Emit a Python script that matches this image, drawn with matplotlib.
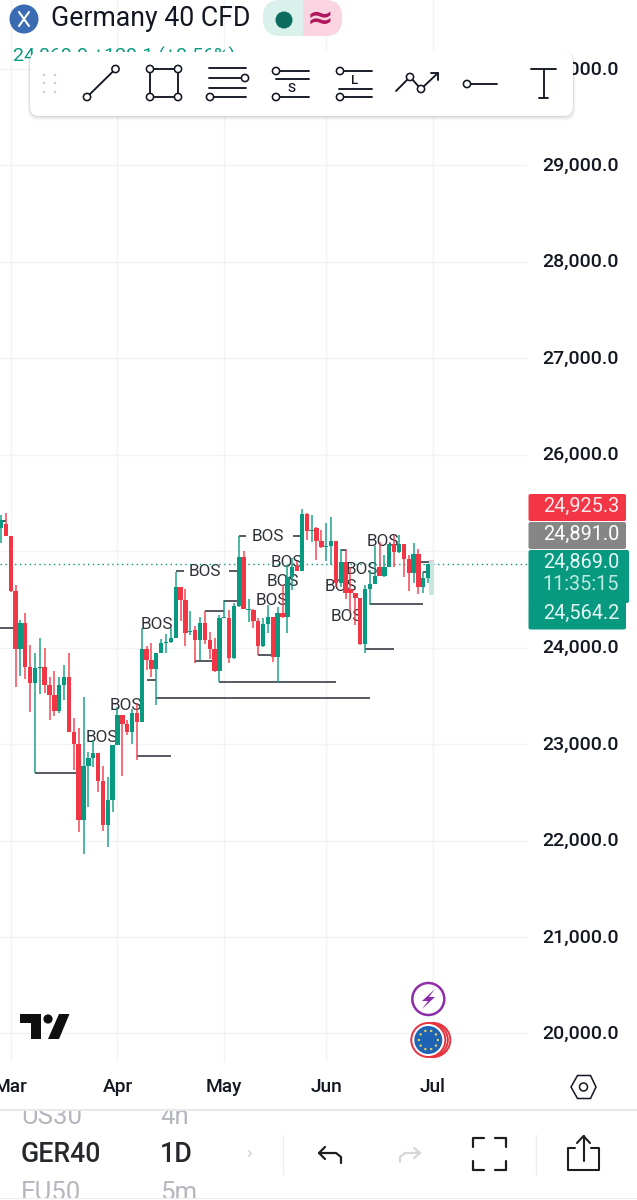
import numpy as np
import matplotlib
matplotlib.use("Agg")
import matplotlib.pyplot as plt
from matplotlib.patches import Circle, Rectangle, FancyBboxPatch, Polygon
from matplotlib.transforms import ScaledTranslation

plt.rcParams['font.family'] = ['Roboto', 'DejaVu Sans']

# ---------- data ----------
opens = [25237,25282,25158,24591,23986,24259,23796,23637,23793,23803,23613,23509,23343,23609,23699,23129,23001,22213,22773,22853,
         22911,22621,22161,22421,22991,23302,23209,23122,23319,23233,23986,23872,23779,23948,24045,24055,24097,24632,24494,24166,
         24183,24079,24252,24079,23986,23762,24304,24303,23889,24431,24943,24390,24390,24276,24020,24241,24321,23899,24362,24314,
         24729,24846,24798,25385,25212,25237,25105,25046,25054,25109,24667,24892,24608,24564,24519,24035,24608,24660,24840,24743,
         24840,25075,24996,25075,24919,24771,24971,24633,24719]
highs = [25375,25400,25158,24650,24287,24363,24028,23941,24104,23993,23699,23758,23699,23820,23948,23267,23171,23492,22922,23043,
         22911,22773,22663,22991,23388,23302,23250,23361,23423,24200,24021,24052,23948,24086,24138,24200,24788,24632,24605,24384,
         24225,24321,24380,24159,24097,24339,24494,24390,24459,25157,25005,24500,24397,24303,24303,24442,24321,24424,24649,24856,
         24926,24901,25434,25399,25375,25247,25219,25295,25358,25109,25023,25023,24840,24564,24519,24650,24805,25058,25099,24961,
         25075,25168,25168,25075,24961,25082,25023,24788,24864]
lows = [25082,25158,24581,23596,23706,23672,23336,22704,23520,23527,23250,23292,23319,23457,23129,22732,22085,21861,22345,22766,
        22507,22099,21937,22293,22991,22669,23095,23001,22835,23233,23768,23699,23406,23941,23948,24052,24097,24280,24021,24131,
        23838,23872,24038,23879,23751,23644,24304,23844,23878,24424,24397,24269,24200,23923,24003,24148,23854,23636,24303,24155,
        24597,24798,24798,25116,25098,24908,25029,24901,24856,24632,24632,24505,24367,24235,24028,23948,24443,24660,24743,24736,
        24840,24840,24978,24729,24591,24667,24553,24564,24667]
closes = [25324,25158,24591,23986,24259,23803,23637,23786,23803,23613,23509,23343,23609,23699,23129,23001,22213,22773,22853,22911,
          22621,22161,22421,22991,23302,23209,23122,23319,23233,23986,23872,23779,23948,24045,24062,24097,24632,24494,24156,24176,
          24079,24252,24079,23986,23762,24304,24314,23889,24431,24943,24397,24400,24276,24020,24241,24321,23899,24362,24314,24729,
          24839,24798,25385,25212,25222,25105,25046,25056,25109,24673,24892,24564,24564,24519,24035,24608,24660,24743,24743,24840,
          25075,24996,25075,24919,24771,24971,24633,24719,24864]

price_ticks = [20000,21000,22000,23000,24000,25000,26000,27000,28000,29000,30000]
price_tick_labels = ["20,000.0","21,000.0","22,000.0","23,000.0","24,000.0","","26,000.0","27,000.0","28,000.0","29,000.0","30,000.0"]
month_pos = [2, 24, 46, 67, 89]
month_labels = ["Mar", "Apr", "May", "Jun", "Jul"]

line_start = [-0.3, 7, 28, 32, 45, 30, 40, 42, 46, 53, 75, 76, 70, -0.3, 86.5, 87, 36, 47, 49, 60.2]
line_end = [3, 16, 35, 76, 69, 32, 44, 46, 49, 56, 81, 87, 71, 1, 89, 88, 37.7, 49, 50.5, 62]
line_level = [24200, 22704, 22880, 23475, 23644, 23665, 23865, 24380, 24487, 23923, 23982, 24449, 25012, 25317, 24892, 24788,
              24795, 24795, 25154, 25154]

bos_pos = [20.8, 25.8, 32.1, 42, 55, 58.9, 58.1, 55.8, 70, 74.4, 78.7, 71.3]
bos_level = [23074, 23405, 24245, 24795, 25154, 24888, 24691, 24494, 24639, 24815, 25106, 24328]

last_price = 24869
forming_low, forming_high, forming_wick = 24545, 24895, 24909
tags = ["24,925.3", "24,891.0", "24,869.0", "11:35:15", "24,564.2"]

UP, DOWN = "#089981", "#F23645"
INK = "#131722"
GRID = "#F1F3F7"

W, H = 637, 1200
fig = plt.figure(figsize=(W/100, H/100), dpi=100, facecolor="white")

# main chart: px 0..527 horizontally, px 0..1062 vertically
ax = fig.add_axes([0, 1-1062/H, 527/W, 1062/H])
ax.set_xlim(-0.204, 108.37)
ax.set_ylim(19704.5, 30715)
for s in ax.spines.values():
    s.set_visible(False)
ax.set_axisbelow(True)
ax.grid(True, color=GRID, lw=1.0)
ax.yaxis.tick_right()
ax.set_yticks(price_ticks, price_tick_labels)
ax.set_xticks(month_pos, month_labels)
ax.tick_params(axis='y', length=0, pad=11, labelsize=14, labelcolor=INK)
ax.tick_params(axis='x', length=0, pad=11.5, labelsize=13.8, labelcolor=INK)
up_shift = ScaledTranslation(0, 1.5/100, fig.dpi_scale_trans)
for lab in ax.get_yticklabels():
    lab.set_fontweight('medium')
    lab.set_transform(lab.get_transform() + up_shift)
for lab in ax.get_xticklabels():
    lab.set_fontweight('medium')

o, h, l, c = map(np.array, (opens, highs, lows, closes))
x = np.arange(len(o))
col = np.where(c >= o, UP, DOWN)

for xi, lv in zip(bos_pos, bos_level):
    ax.text(xi, lv, "BOS", fontsize=12.3, color="#2E3238", ha="center", va="center", zorder=2)
ax.axhline(last_price, color=UP, lw=1.0, ls=(0, (1, 2.5)), zorder=2)
ax.hlines(line_level, line_start, line_end, color="#3A3D45", lw=1.2, zorder=3)
ax.vlines(x, l, h, colors=col, lw=1.1, zorder=4, alpha=0.9)
ax.bar(x, np.abs(c-o), bottom=np.minimum(o, c), width=0.9, color=col, zorder=5, linewidth=0)
ax.bar([88.7], [forming_high-forming_low], bottom=[forming_low], width=1.2, color="#C8E7E0", zorder=3, linewidth=0)
ax.bar([88.7], [forming_wick-forming_high], bottom=[forming_high], width=1.2, color="#F6B9C2", zorder=3, linewidth=0)

# overlay in pixel coordinates for the app interface
ov = fig.add_axes([0, 0, 1, 1], facecolor="none")
ov.set_xlim(0, W)
ov.set_ylim(H, 0)
ov.axis("off")
ov.set_zorder(10)
ax.set_zorder(1)

def T(px, py, s, size, color=INK, ha="left", va="center", weight="normal", **kw):
    return ov.text(px, py, s, fontsize=size, color=color, ha=ha, va=va, fontweight=weight, **kw)

def L(xs, ys, color=INK, lw=1.35, **kw):
    ov.plot(xs, ys, color=color, lw=lw, solid_capstyle="round", solid_joinstyle="round", **kw)

def ring(px, py, r=3.6, color=INK, lw=1.15):
    ov.add_patch(Circle((px, py), r, fc="white", ec=color, lw=lw, zorder=6))

# header
ov.add_patch(Circle((24, 19), 14.5, fc="#3A6BB3", ec="none"))
L([19, 29], [12, 26], "white", 1.5)
L([29, 19], [12, 26], "white", 1.5)
T(51, 19, "Germany 40 CFD", 19.2, INK)
ov.add_patch(FancyBboxPatch((263, 0), 79, 36, boxstyle="round,pad=0,rounding_size=17", fc="#D9F0EB", ec="none"))
clip = Rectangle((303, -2), 42, 40, transform=ov.transData)
pk = FancyBboxPatch((263, 0), 79, 36, boxstyle="round,pad=0,rounding_size=17", fc="#FAD4E1", ec="none")
ov.add_patch(pk)
pk.set_clip_path(clip)
ov.add_patch(Circle((284, 20), 8.5, fc="#0B6B5C", ec="none"))
T(320, 19, "≈", 23, "#B0185E", ha="center", weight="bold", family=["DejaVu Sans"])
T(13, 56, "24,869.9 +129.1 (+0.56%)", 14, UP)

# drawing toolbar with soft shadow
for off, a in ((5.0, 0.012), (4.0, 0.02), (3.0, 0.03), (2.0, 0.04), (1.0, 0.05)):
    ov.add_patch(FancyBboxPatch((30-off/2, 52), 543+off, 64+off, boxstyle="round,pad=0,rounding_size=10",
                                fc="black", ec="none", alpha=a, zorder=4))
ov.add_patch(FancyBboxPatch((30, 52), 543, 64, boxstyle="round,pad=0,rounding_size=9", fc="white", ec="none", zorder=5))
for dx in (44, 55):
    for dy in (75, 83, 92):
        ov.add_patch(Circle((dx, dy), 1.3, fc="#CFCFCF", ec="none", zorder=6))
Z = dict(zorder=6)
L([87, 115.5], [97, 69], **Z)
ring(87, 97); ring(115.5, 69)
L([150, 178, 178, 150, 150], [69, 69, 97, 97, 69], **Z)
for cx, cy in ((150, 69), (178, 69), (150, 97), (178, 97)):
    ring(cx, cy)
for yy in (68, 78, 88, 97):
    L([209, 246], [yy, yy], **Z)
ring(245, 78); ring(210, 97)
L([276, 309], [71, 71], **Z); L([276, 309], [79, 79], **Z); L([276, 309], [97, 97], **Z)
ring(276, 71); ring(276, 97)
T(292, 88, "S", 9.5, ha="center", weight="medium", zorder=6)
L([340, 372], [71, 71], **Z); L([339, 372], [89, 89], **Z); L([340, 372], [97, 97], **Z)
ring(340, 71); ring(340, 97)
T(355, 80, "L", 9.5, ha="center", weight="medium", zorder=6)
L([396, 410, 421, 438], [91, 77, 89, 73], **Z)
L([431, 438, 438], [73, 73, 80], **Z)
ring(410, 77); ring(421, 89)
L([467, 497], [84, 84], **Z)
ring(467, 84)
L([531, 556], [69, 69], **Z); L([543.5, 543.5], [69, 98], **Z); L([539, 548], [98, 98], **Z)

# price tags
def tag(x1, y0, y1, color):
    ov.add_patch(FancyBboxPatch((528.5, y0), x1-528.5, y1-y0, boxstyle="round,pad=0,rounding_size=2", fc=color, ec="none", zorder=6))
tag(626, 494, 521, "#F23645")
tag(626, 522, 549, "#868686")
tag(629, 550, 603, UP)
tag(626, 601, 629.5, UP)
for yy, s, cc in zip((506.5, 534.5, 562.5, 585, 613), tags, ("#FDE9EB", "white", "#E4F7F3", "#BFEADF", "#E4F7F3")):
    T(619, yy, s, 14.3, cc, ha="right", zorder=7)

# TradingView mark
ov.add_patch(Polygon([(19.5, 1014), (40.5, 1014), (40.5, 1039), (30.5, 1039), (30.5, 1023), (19.5, 1023)], fc="#0F0F0F", ec="none"))
ov.add_patch(Circle((48, 1019), 4.6, fc="#0F0F0F", ec="none"))
ov.add_patch(Polygon([(59, 1014), (69.5, 1014), (59, 1039), (48, 1039)], fc="#0F0F0F", ec="none"))

# event markers
ov.add_patch(Circle((428.3, 999), 16, fc="white", ec="#8E2DA8", lw=1.8))
ov.add_patch(Polygon([(435, 989), (422, 1001), (428, 1001), (422, 1009), (435, 997), (429, 997)], fc="#8E2DA8", ec="none"))
for dx in (5, 2.5, 0):
    ov.add_patch(Circle((428.3+dx, 1040), 17, fc="white", ec="#E5343F", lw=1.4))
ov.add_patch(Circle((428.3, 1040), 14, fc="#1E63B4", ec="none"))
for a in np.deg2rad(np.arange(0, 360, 36)):
    ov.add_patch(Circle((428.3+9.5*np.cos(a), 1040+9.5*np.sin(a)), 1.2, fc="#E7D35A", ec="none"))

# settings hexagon
hx = [(571, 1087), (577.5, 1075.5), (590.5, 1075.5), (596, 1087), (590.5, 1098.5), (577.5, 1098.5)]
ov.add_patch(Polygon(hx, closed=True, fc="none", ec=INK, lw=1.1))
ov.add_patch(Circle((583.5, 1087), 4, fc="none", ec=INK, lw=1.1))

# bottom bar
ov.add_patch(Rectangle((0, 1109), W, 2, fc="#E6E8EC", ec="none"))
ov.add_patch(Rectangle((0, 1197.5), W, 1.5, fc="#EDEEF1", ec="none"))
band = Rectangle((0, 1111), W, 86.5, transform=ov.transData)
for px, py, s in ((21, 1117.5, "US30"), (160, 1117.5, "4h"), (21, 1192.5, "EU50"), (160, 1192.5, "5m")):
    t = T(px, py, s, 18.5, "#B4B7BD")
    t.set_clip_path(band)
    t.set_clip_on(True)
T(21, 1154, "GER40", 19.3, "#26282C", weight="medium")
T(160, 1154, "1D", 19.3, "#26282C", weight="medium")
T(249, 1153, "›", 13, "#C8CACE", ha="center")
L([283, 283], [1135, 1174], "#ECEDEF", 1.0)
L([536, 536], [1135, 1174], "#ECEDEF", 1.0)
# undo / redo
L([341, 341, 336, 319], [1163, 1157, 1153, 1153], "#1C1E22", 1.6)
L([325, 319, 325], [1147, 1153, 1159], "#1C1E22", 1.6)
L([400, 400, 405, 420], [1162, 1157, 1153, 1153], "#D6D7DA", 1.6)
L([414, 420, 414], [1148, 1153, 1158], "#D6D7DA", 1.6)
# full screen corners
for xs, ys in (([473, 473, 484], [1147, 1138, 1138]), ([495, 506, 506], [1138, 1138, 1147]),
               ([473, 473, 484], [1161, 1170, 1170]), ([495, 506, 506], [1170, 1170, 1161])):
    L(xs, ys, "#1C1E22", 1.6)
# share
L([575, 568, 568, 599, 599, 591], [1148, 1148, 1170, 1170, 1148, 1148], "#1C1E22", 1.5)
L([583.5, 583.5], [1161, 1136], "#1C1E22", 1.5)
L([577, 583.5, 590], [1143, 1136, 1143], "#1C1E22", 1.5)

fig.savefig("out.png", dpi=100)
